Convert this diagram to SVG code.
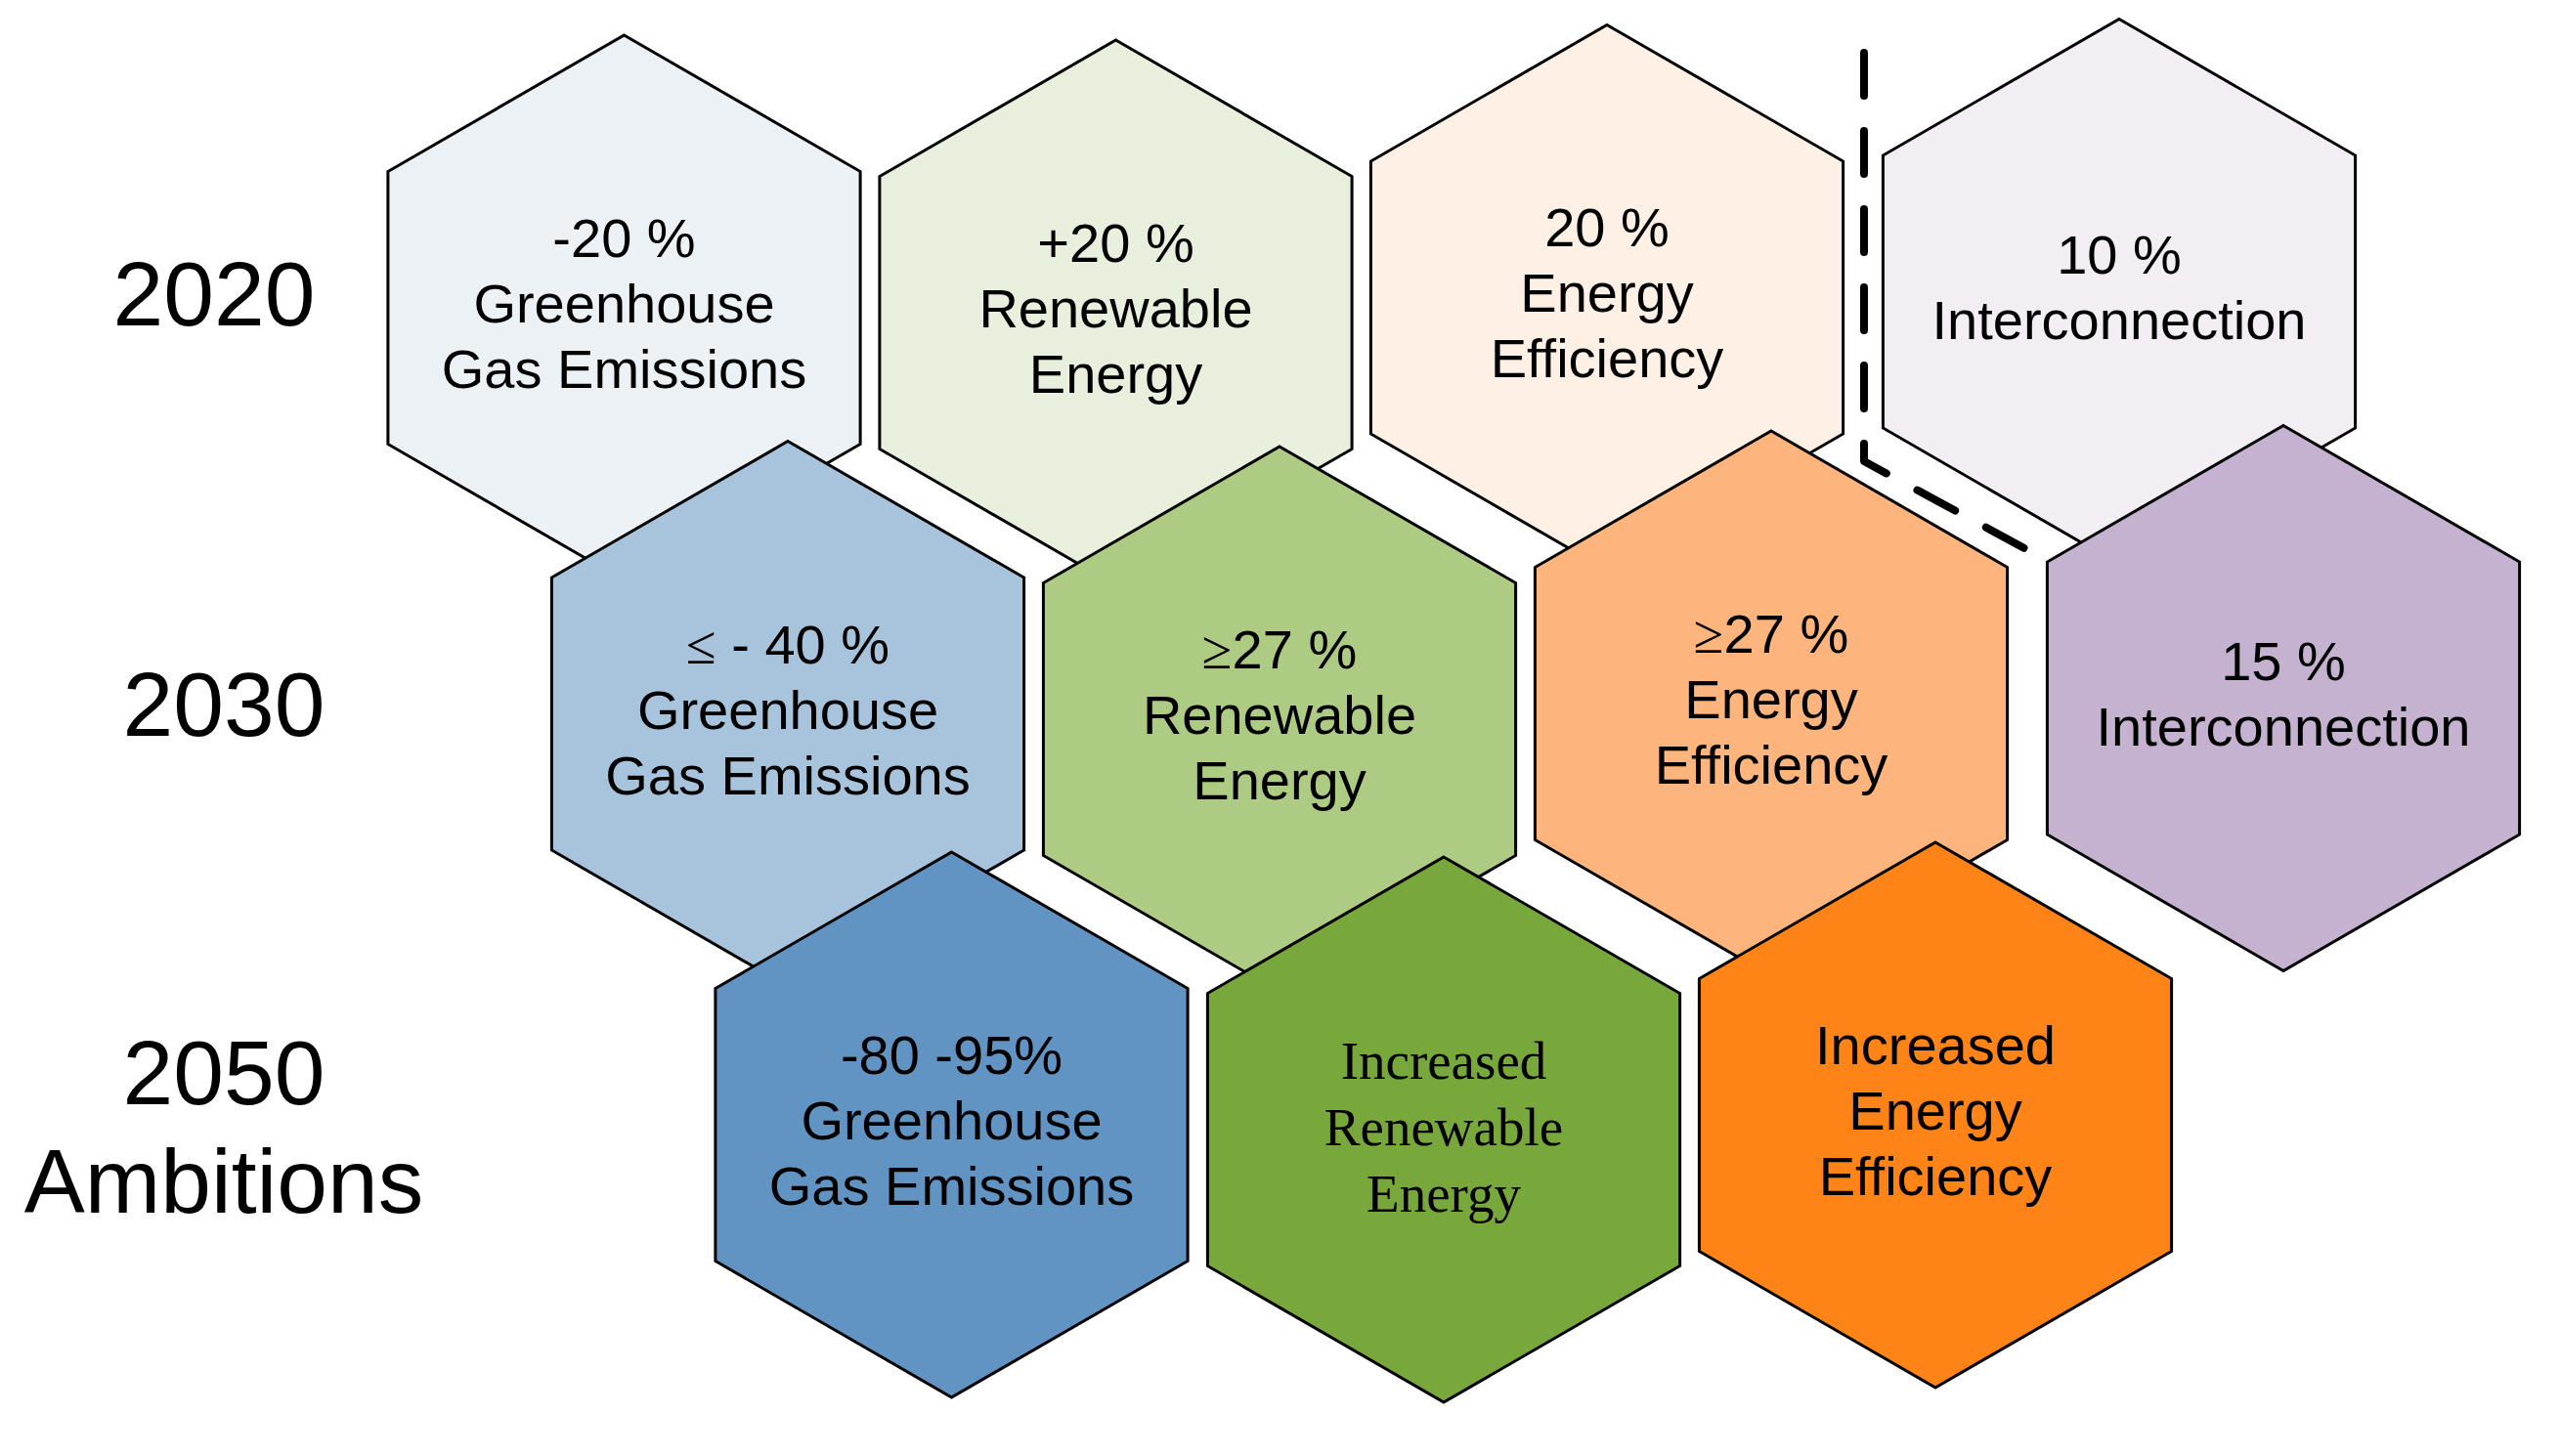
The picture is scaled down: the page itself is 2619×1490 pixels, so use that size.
<svg xmlns="http://www.w3.org/2000/svg" xmlns:xlink="http://www.w3.org/1999/xlink" width="2619" height="1490" viewBox="0 0 2619 1490">
<style>
.hex{stroke:#000;stroke-width:3;stroke-linejoin:miter}
.t{font-family:"Liberation Sans",Arial,sans-serif;font-size:56px;fill:#000;text-anchor:middle}
.ts{font-family:"Liberation Serif","Times New Roman",serif;font-size:55px;fill:#000;text-anchor:middle}
.sym{font-family:"Liberation Serif","Times New Roman",serif}
.yr{font-family:"Liberation Sans",Arial,sans-serif;font-size:93px;fill:#000;text-anchor:middle}
.dash{fill:none;stroke:#000;stroke-width:8;stroke-linecap:round;stroke-linejoin:round;stroke-dasharray:44 36}
</style>
<defs>
<polygon id="hx" points="0,-279 241.6,-139.5 241.6,139.5 0,279 -241.6,139.5 -241.6,-139.5"/>
</defs>
<rect width="2619" height="1490" fill="#fff"/>
<g id="labels">
<text class="yr" x="219" y="333">2020</text>
<text class="yr" x="229" y="753">2030</text>
<text class="yr" x="229" y="1130">2050</text>
<text class="yr" x="229" y="1241">Ambitions</text>
</g>
<g id="h1"><use xlink:href="#hx" class="hex" x="638.5" y="315" fill="#ECF1F6"/>
<text class="t" x="638.5" y="263">-20 %</text><text class="t" x="638.5" y="330">Greenhouse</text><text class="t" x="638.5" y="397">Gas Emissions</text></g>
<g id="h2"><use xlink:href="#hx" class="hex" x="1141.5" y="320" fill="#E8EFDD"/>
<text class="t" x="1141.5" y="268">+20 %</text><text class="t" x="1141.5" y="335">Renewable</text><text class="t" x="1141.5" y="402">Energy</text></g>
<g id="h3"><use xlink:href="#hx" class="hex" x="1644" y="304.5" fill="#FEF0E4"/>
<text class="t" x="1644" y="252">20 %</text><text class="t" x="1644" y="319">Energy</text><text class="t" x="1644" y="386">Efficiency</text></g>
<g id="h4"><use xlink:href="#hx" class="hex" x="2168" y="298.5" fill="#F2EEF4"/>
<text class="t" x="2168" y="280">10 %</text><text class="t" x="2168" y="347">Interconnection</text></g>
<g id="h5"><use xlink:href="#hx" class="hex" x="806" y="730.5" fill="#A8C3DC"/>
<text class="t" x="806" y="679"><tspan class="sym">≤</tspan> - 40 %</text><text class="t" x="806" y="746">Greenhouse</text><text class="t" x="806" y="813">Gas Emissions</text></g>
<g id="h6"><use xlink:href="#hx" class="hex" x="1309" y="736" fill="#AECB84"/>
<text class="t" x="1309" y="684"><tspan class="sym">≥</tspan>27 %</text><text class="t" x="1309" y="751">Renewable</text><text class="t" x="1309" y="818">Energy</text></g>
<g id="h7"><use xlink:href="#hx" class="hex" x="1812" y="720" fill="#FDB57D"/>
<text class="t" x="1812" y="668"><tspan class="sym">≥</tspan>27 %</text><text class="t" x="1812" y="735">Energy</text><text class="t" x="1812" y="802">Efficiency</text></g>
<g id="h8"><use xlink:href="#hx" class="hex" x="2336" y="714.5" fill="#C4B2D0"/>
<text class="t" x="2336" y="696">15 %</text><text class="t" x="2336" y="763">Interconnection</text></g>
<g id="h9"><use xlink:href="#hx" class="hex" x="973.5" y="1151" fill="#6194C3"/>
<text class="t" x="973.5" y="1099">-80 -95%</text><text class="t" x="973.5" y="1166">Greenhouse</text><text class="t" x="973.5" y="1233">Gas Emissions</text></g>
<g id="h10"><use xlink:href="#hx" class="hex" x="1477" y="1156" fill="#78A73B"/>
<text class="ts" x="1477" y="1104">Increased</text><text class="ts" x="1477" y="1172">Renewable</text><text class="ts" x="1477" y="1240">Energy</text></g>
<g id="h11"><use xlink:href="#hx" class="hex" x="1980" y="1141" fill="#FE8417"/>
<text class="t" x="1980" y="1089">Increased</text><text class="t" x="1980" y="1156">Energy</text><text class="t" x="1980" y="1223">Efficiency</text></g>
<g id="connectors">
<path class="dash" d="M1907 54 V472 L2071 561"/>
</g>
</svg>
